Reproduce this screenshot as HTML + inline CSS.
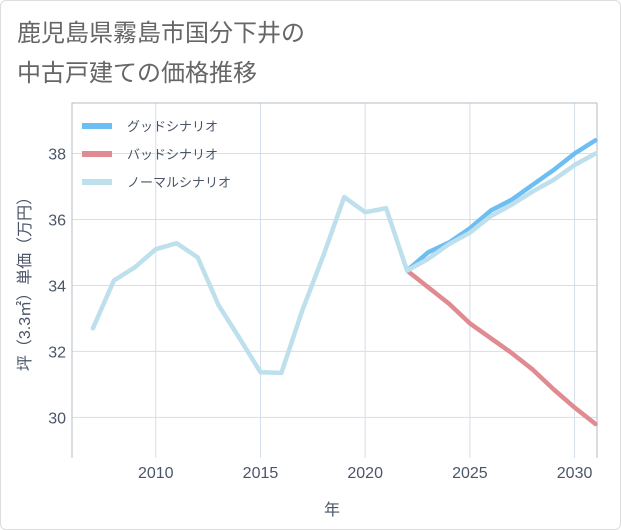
<!DOCTYPE html>
<html><head><meta charset="utf-8"><style>
html,body{margin:0;padding:0;background:#fff;}
body{width:621px;height:530px;overflow:hidden;font-family:"Liberation Sans","Noto Sans CJK JP",sans-serif;}
#card{position:absolute;left:0;top:0;width:619px;height:528px;border:1px solid #ddd;border-radius:6px;}
</style></head><body>
<div id="card"></div>
<svg id="chart" width="621" height="530" style="position:absolute;left:0;top:0">
<text x="17" y="41" font-size="24" fill="#666">鹿児島県霧島市国分下井の</text>
<text x="17" y="81" font-size="24" fill="#666">中古戸建ての価格推移</text>
<g id="grid"></g>
<g id="axes"></g>
<g id="series"></g>
<g id="legend"></g>
<text x="332" y="515" font-size="16" fill="#4a5568" text-anchor="middle">年</text>
<text transform="translate(30,280) rotate(-90)" font-size="16" fill="#4a5568" text-anchor="middle">坪（3.3㎡）単価（万円）</text>
</svg>
<script>
const histYears=[2007,2008,2009,2010,2011,2012,2013,2014,2015,2016,2017,2018,2019,2020,2021,2022];
const histValues=[32.7,34.15,34.55,35.1,35.28,34.85,33.4,32.4,31.37,31.35,33.25,34.9,36.68,36.22,36.34,34.45];
const futYears=[2022,2023,2024,2025,2026,2027,2028,2029,2030,2031];
const goodValues=[34.45,35.0,35.3,35.73,36.27,36.6,37.05,37.5,38.0,38.4];
const badValues=[34.45,33.95,33.45,32.85,32.4,31.95,31.45,30.85,30.3,29.8];
const normalValues=[34.45,34.8,35.25,35.6,36.1,36.45,36.85,37.2,37.65,38.0];
const xTicks=[2010,2015,2020,2025,2030];
const yTicks=[30,32,34,36,38];
const legendLabels=["グッドシナリオ","バッドシナリオ","ノーマルシナリオ"];

const L=72,R=597,T=103,B=458;
const x0=2006,x1=2031.07,y0=28.77,y1=39.53;
const sx=v=>L+(v-x0)/(x1-x0)*(R-L);
const sy=v=>B-(v-y0)/(y1-y0)*(B-T);
const NS="http://www.w3.org/2000/svg";
function mk(tag,attrs,parent){const e=document.createElementNS(NS,tag);for(const k in attrs)e.setAttribute(k,attrs[k]);parent.appendChild(e);return e;}
const grid=document.getElementById('grid'),axes=document.getElementById('axes'),series=document.getElementById('series'),legend=document.getElementById('legend');

xTicks.forEach(t=>{
  const l=mk('line',{x1:sx(t),x2:sx(t),y1:T,y2:B,stroke:'#d3dfeb','stroke-width':1},grid);
  
  
  const tx=mk('text',{x:sx(t),y:B+20,'font-size':16,fill:'#4a5568','text-anchor':'middle'},axes);
  tx.textContent=t;
  
  
});
yTicks.forEach(t=>{
  const l=mk('line',{x1:L,x2:R,y1:sy(t),y2:sy(t),stroke:'#d3dfeb','stroke-width':1},grid);
  
  
  const tx=mk('text',{x:L-6,y:sy(t)+6,'font-size':16,fill:'#4a5568','text-anchor':'end'},axes);
  tx.textContent=t;
  
  
});
const ax=mk('path',{d:`M${R},${T}H${L}V${B}`,fill:'none',stroke:'#b4bcc6','stroke-width':1},axes);


const rax=mk('line',{x1:R,x2:R,y1:T,y2:B,stroke:'#b4bcc6','stroke-width':1},axes);



function line(xs,ys,color,name){
  const p=mk('polyline',{points:xs.map((x,i)=>sx(x)+','+sy(ys[i])).join(' '),fill:'none',stroke:color,'stroke-width':4.5,'stroke-linejoin':'round','stroke-linecap':'round'},series);
  
  
}
line(futYears,badValues,'#e08a92','bad-scenario-line');
line(futYears,goodValues,'#6dbef2','good-scenario-line');
line(futYears,normalValues,'#bde0ec','normal-scenario-line');
line(histYears,histValues,'#bde0ec','historical-line');

const colors=['#6dbef2','#e08a92','#bde0ec'];
legendLabels.forEach((lab,i)=>{
  const y=126+i*28;
  const r=mk('rect',{x:82,y:y-3,width:30,height:6,fill:colors[i]},legend);
  
  
  const t=mk('text',{x:127,y:y+5,'font-size':13,fill:'#4a5568'},legend);
  t.textContent=lab;
  
  
});
</script>
</body></html>
